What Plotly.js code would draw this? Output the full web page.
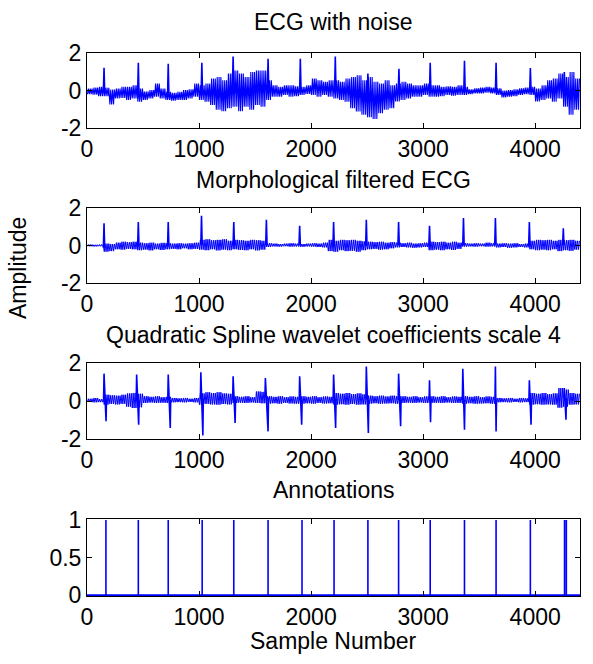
<!DOCTYPE html>
<html><head><meta charset="utf-8">
<script src="https://cdn.plot.ly/plotly-3.0.1.min.js"></script>
<style>html,body{margin:0;padding:0;background:#fff}</style>
</head><body>
<div id="chart" style="width:593px;height:664px"></div>
<script>
// ---- data ----
const BIN = 50; // samples per envelope bin
const xTicks = [0, 1000, 2000, 3000, 4000];
const yTicksSignal = [-2, 0, 2];
const yTicksAnn = [0, 0.5, 1];

// Panel 1: ECG with noise (per-bin min / max)
const noisyLo = [-0.2,-0.22,-0.3,-0.3,-0.75,-0.42,-0.4,-0.5,-0.42,-0.6,
-0.5,-0.42,-0.33,-0.42,-0.5,-0.54,-0.5,-0.5,-0.42,-0.33,
-0.5,-0.6,-0.77,-1.03,-1.1,-0.95,-0.86,-1.1,-0.86,-1.03,
-0.77,-0.86,-0.5,-0.33,-0.33,-0.24,-0.33,-0.3,-0.24,-0.19,
-0.24,-0.33,-0.24,-0.33,-0.42,-0.5,-0.6,-0.95,-1.12,-1.29,
-1.42,-1.52,-1.21,-1.03,-0.95,-0.59,-0.5,-0.42,-0.33,-0.33,
-0.24,-0.33,-0.33,-0.3,-0.24,-0.28,-0.24,-0.24,-0.19,-0.15,
-0.15,-0.12,-0.15,-0.24,-0.37,-0.33,-0.3,-0.24,-0.19,-0.24,
-0.59,-0.5,-0.42,-0.6,-0.42,-0.86,-1.29,-1.03];
const noisyHi = [0.1,0.16,0.2,0.15,0.05,0.11,0.2,0.2,0.28,0.1,
-0.05,0.02,0.37,0.11,-0.07,-0.12,-0.07,0.02,0.06,0.37,
0.28,0.37,0.64,0.72,0.55,0.9,1.07,0.9,0.72,0.99,
1.07,1.07,0.55,0.28,0.2,0.28,0.28,0.23,0.2,0.28,
0.64,0.55,0.46,0.55,0.55,0.46,0.64,0.72,0.81,0.55,
0.72,0.46,0.37,0.55,0.28,0.37,0.46,0.37,0.28,0.28,
0.37,0.28,0.28,0.2,0.23,0.2,0.28,0.2,0.06,0.11,
0.16,0.2,0.16,0.11,-0.01,0.02,0.06,0.11,0.16,0.2,
0.11,0.28,0.55,0.64,0.9,0.72,0.99,0.64];
const noisyPeakX = [152,458,725,1025,1304,1616,1904,2216,2507,2784,3063,3369,3651,3957,4260];
const noisyPeakY = [1.21,1.48,1.42,1.48,1.81,1.69,1.69,1.81,0.9,1.16,1.48,1.59,1.48,1.2,0.99];

// Panel 2: Morphological filtered ECG
const filtLo = [-0.04,-0.05,-0.04,-0.33,-0.3,-0.2,-0.22,-0.18,-0.2,-0.25,
-0.22,-0.26,-0.2,-0.24,-0.2,-0.18,-0.2,-0.15,-0.2,-0.18,
-0.22,-0.25,-0.2,-0.26,-0.22,-0.25,-0.2,-0.24,-0.25,-0.2,
-0.26,-0.22,-0.08,-0.05,-0.06,-0.04,-0.06,-0.05,-0.07,-0.05,
-0.06,-0.08,-0.1,-0.3,-0.33,-0.25,-0.3,-0.28,-0.33,-0.25,
-0.2,-0.18,-0.22,-0.2,-0.15,-0.1,-0.08,-0.1,-0.12,-0.1,
-0.08,-0.25,-0.22,-0.25,-0.2,-0.24,-0.18,-0.06,-0.05,-0.06,
-0.04,-0.06,-0.05,-0.1,-0.08,-0.12,-0.1,-0.08,-0.1,-0.2,
-0.25,-0.22,-0.25,-0.2,-0.3,-0.25,-0.28,-0.22];
const filtHi = [0.05,0.04,0.05,0.1,0.08,0.15,0.2,0.18,0.2,0.15,
0.12,0.15,0.1,0.14,0.12,0.1,0.12,0.1,0.12,0.15,
0.3,0.33,0.28,0.3,0.33,0.25,0.3,0.28,0.25,0.3,
0.28,0.25,0.12,0.1,0.08,0.1,0.12,0.1,0.08,0.1,
0.12,0.1,0.15,0.3,0.25,0.3,0.28,0.3,0.25,0.22,
0.2,0.18,0.2,0.15,0.18,0.15,0.12,0.15,0.1,0.12,
0.15,0.2,0.18,0.2,0.15,0.2,0.15,0.12,0.1,0.12,
0.1,0.15,0.12,0.1,0.12,0.1,0.12,0.08,0.1,0.25,
0.3,0.28,0.3,0.25,0.3,0.28,0.3,0.25];
const filtPeakX = [152,458,725,1022,1310,1601,1898,2201,2493,2781,3057,3360,3645,3948,4251];
const filtPeakY = [1.19,1.25,1.25,1.59,1.25,1.37,1.05,1.25,1.37,1.25,1.05,1.46,1.46,1.25,0.92];

// Panel 3: Quadratic spline wavelet coefficients, scale 4
const wavLo = [-0.05,-0.07,-0.06,-0.19,-0.15,-0.18,-0.15,-0.3,-0.37,-0.33,
-0.1,-0.08,-0.1,-0.09,-0.1,-0.07,-0.06,-0.07,-0.05,-0.07,
-0.19,-0.15,-0.18,-0.19,-0.16,-0.18,-0.1,-0.09,-0.1,-0.08,
-0.1,-0.12,-0.14,-0.12,-0.14,-0.1,-0.13,-0.14,-0.14,-0.12,
-0.14,-0.1,-0.13,-0.12,-0.19,-0.17,-0.19,-0.16,-0.19,-0.18,
-0.14,-0.12,-0.14,-0.13,-0.12,-0.14,-0.1,-0.09,-0.1,-0.08,
-0.1,-0.1,-0.09,-0.1,-0.08,-0.1,-0.1,-0.14,-0.12,-0.14,
-0.13,-0.12,-0.14,-0.07,-0.06,-0.07,-0.05,-0.07,-0.06,-0.19,
-0.17,-0.19,-0.18,-0.19,-0.35,-0.3,-0.19,-0.18];
const wavHi = [0.12,0.16,0.1,0.33,0.3,0.28,0.33,0.4,0.42,0.38,
0.25,0.22,0.25,0.2,0.22,0.16,0.14,0.16,0.12,0.16,
0.4,0.46,0.42,0.46,0.4,0.38,0.25,0.22,0.25,0.2,
0.5,0.48,0.25,0.22,0.25,0.2,0.24,0.22,0.25,0.22,
0.25,0.2,0.24,0.22,0.42,0.38,0.42,0.36,0.4,0.35,
0.28,0.25,0.28,0.24,0.28,0.25,0.25,0.22,0.25,0.2,
0.24,0.25,0.22,0.25,0.2,0.24,0.22,0.25,0.22,0.25,
0.2,0.24,0.22,0.16,0.14,0.16,0.12,0.16,0.14,0.42,
0.38,0.42,0.36,0.4,0.68,0.6,0.42,0.38];
const wavUpX = [152,443,725,1016,1304,1592,1898,2201,2493,2781,3057,3354,3645,3948,4260];
const wavUpY = [1.44,1.39,1.39,1.51,1.3,1.21,1.3,1.39,1.82,1.44,1.09,1.7,1.82,1.09,0.68];
const wavDownX = [170,461,743,1034,1322,1616,1916,2219,2511,2799,3066,3369,3651,3963,4275];
const wavDownY = [-1.07,-1.25,-1.42,-1.82,-1.16,-1.6,-1.25,-1.42,-1.68,-1.33,-1.12,-1.51,-1.6,-1.25,-0.98];

// Panel 4: annotation sample positions
const annPos = [169,458,725,1028,1310,1616,1919,2205,2507,2781,3063,3369,3651,3957,4262,4278];
const xMax = 4400;

// ---- helpers building traces from the arrays ----
const BLUE = '#0000ff';
// each bin is drawn as strokes alternating between its read min and max
const STROKES = [4, 12, 20, 29, 37, 45];
function band(lo, hi){
  const x = [], y = [];
  for (let i = 0; i < lo.length; i++){
    STROKES.forEach((o, k) => { x.push(i*BIN + o); y.push(k % 2 ? hi[i] : lo[i]); });
  }
  return {x, y};
}
function baseAt(lo, hi, s){
  const i = Math.min(lo.length-1, Math.floor(s/BIN));
  return (lo[i] + hi[i]) / 2;
}
function spikes(px, py, lo, hi){
  const x = [], y = [];
  px.forEach((p, k) => {
    const b = baseAt(lo, hi, p);
    x.push(p-6, p, p+6, null);
    y.push(b, py[k], b, null);
  });
  return {x, y};
}
function biphasic(ux, uy, dx, dy, lo, hi){
  const x = [], y = [];
  ux.forEach((u, k) => {
    const b = baseAt(lo, hi, u);
    x.push(u-4, u, dx[k], dx[k]+4, null);
    y.push(b, uy[k], dy[k], b, null);
  });
  return {x, y};
}
function annLine(pos){
  const x = [0], y = [0];
  pos.forEach(p => { x.push(p, p, p); y.push(0, 1, 0); });
  x.push(xMax); y.push(0);
  return {x, y};
}

function tr(d, xa, ya, w){
  return {type:'scatter', mode:'lines', x:d.x, y:d.y, xaxis:xa, yaxis:ya,
          line:{color:BLUE, width:w||1.3, simplify:false}, connectgaps:false, hoverinfo:'skip'};
}
const traces = [
  tr(band(noisyLo, noisyHi), 'x', 'y', 1.1),
  tr(spikes(noisyPeakX, noisyPeakY, noisyLo, noisyHi), 'x', 'y', 1.6),
  tr(band(filtLo, filtHi), 'x2', 'y2', 1.0),
  tr(spikes(filtPeakX, filtPeakY, filtLo, filtHi), 'x2', 'y2', 1.6),
  tr(band(wavLo, wavHi), 'x3', 'y3', 1.0),
  tr(biphasic(wavUpX, wavUpY, wavDownX, wavDownY, wavLo, wavHi), 'x3', 'y3', 1.6),
  tr(annLine(annPos), 'x4', 'y4', 1.6)
];

const FONT = {family:'Liberation Sans, Arial, sans-serif', size:23, color:'#000'};
const xdom = [87/593, 580/593];
function ydom(top, bottom){ return [1 - bottom/664, 1 - top/664]; }
function xax(anchor){
  return {domain:xdom, anchor:anchor, range:[0, xMax], tickvals:xTicks,
    ticktext:xTicks.map(String), ticks:'inside', ticklen:5, tickcolor:'#000',
    showline:true, linecolor:'#000', linewidth:1, mirror:'allticks',
    showgrid:false, zeroline:false, tickfont:FONT, fixedrange:true};
}
function yax(anchor, dom, range, vals){
  return {domain:dom, anchor:anchor, range:range, tickvals:vals,
    ticktext:vals.map(String), ticks:'inside', ticklen:5, tickcolor:'#000',
    showline:true, linecolor:'#000', linewidth:1, mirror:'allticks',
    showgrid:false, zeroline:false, tickfont:FONT, fixedrange:true};
}
function label(text, x, y, angle){
  return {text:text, xref:'paper', yref:'paper', x:x, y:y, showarrow:false,
    font:FONT, textangle:angle||0, xanchor:'center', yanchor:'middle'};
}
const xc = (87+580)/2/593;
const layout = {
  width:593, height:664, margin:{l:0, r:0, t:0, b:0},
  paper_bgcolor:'#fff', plot_bgcolor:'#fff', showlegend:false,
  xaxis: xax('y'),  yaxis: yax('x', ydom(53,128), [-2,2], yTicksSignal),
  xaxis2: xax('y2'), yaxis2: yax('x2', ydom(208,283), [-2,2], yTicksSignal),
  xaxis3: xax('y3'), yaxis3: yax('x3', ydom(363,439), [-2,2], yTicksSignal),
  xaxis4: xax('y4'), yaxis4: yax('x4', ydom(519,596), [-0.012,1.012], yTicksAnn),
  annotations:[
    label('ECG with noise', xc, 1-22/664),
    label('Morphological filtered ECG', xc, 1-180/664),
    label('Quadratic Spline wavelet coefficients scale 4', xc, 1-335/664),
    label('Annotations', xc, 1-490/664),
    label('Sample Number', xc, 1-641/664),
    label('Amplitude', 18/593, 1-268/664, -90)
  ]
};
Plotly.newPlot('chart', traces, layout, {staticPlot:true, displayModeBar:false});
</script>
</body></html>
